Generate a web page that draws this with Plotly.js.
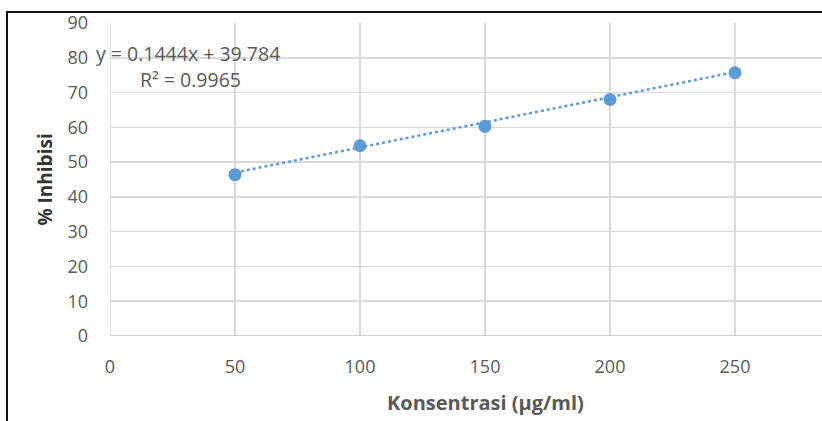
<!DOCTYPE html>
<html>
<head>
<meta charset="utf-8">
<script src="https://cdn.plot.ly/plotly-3.0.1.min.js"></script>
<style>
  html, body { margin: 0; padding: 0; background: #fff; }
  #wrap { position: relative; width: 822px; height: 421px; overflow: hidden; }
  #chart { position: absolute; left: 0; top: 0; width: 822px; height: 421px; }
  #frame { position: absolute; left: 6px; top: 11px; width: 830px; height: 430px;
           border-left: 2px solid #111; border-top: 2px solid #111; pointer-events: none; }
</style>
</head>
<body>
<div id="wrap">
  <div id="chart"></div>
  <div id="frame"></div>
</div>
<script>
// Data
const konsentrasi = [50, 100, 150, 200, 250];
const inhibisi = [46.4, 54.7, 60.3, 68.0, 75.7];
const trendX = [50, 250];
const trendY = [47.0, 75.9];
const equationText = "y = 0.1444x + 39.784";
const r2Text = "R² = 0.9965";
const xTicks = [0, 50, 100, 150, 200, 250];
const yTicks = [0, 10, 20, 30, 40, 50, 60, 70, 80, 90];

const blue = "#5b9bd5";
const gray = "#595959";
const font = "'Open Sans', 'DejaVu Sans', sans-serif";

const traces = [
  {
    x: trendX, y: trendY, type: "scatter", mode: "lines",
    line: { color: blue, width: 2.5, dash: "dot" },
    hoverinfo: "skip", showlegend: false
  },
  {
    x: konsentrasi, y: inhibisi, type: "scatter", mode: "markers",
    marker: { color: blue, size: 13, symbol: "circle" },
    showlegend: false
  }
];

const layout = {
  width: 822, height: 421,
  margin: { l: 110, r: 0, t: 23, b: 85, pad: 0 },
  paper_bgcolor: "#fff", plot_bgcolor: "#fff",
  showlegend: false,
  xaxis: {
    range: [0, 284.8], tickvals: xTicks, ticktext: xTicks.map(String),
    showgrid: true, gridcolor: "#d9d9d9", gridwidth: 1.5,
    zeroline: false, showline: false, ticks: "",
    tickfont: { family: font, size: 18, color: gray },
    ticklabelstandoff: 18
  },
  yaxis: {
    range: [0, 90], tickvals: yTicks, ticktext: yTicks.map(String),
    showgrid: true, gridcolor: "#d9d9d9", gridwidth: 1.5,
    zeroline: false, showline: false, ticks: "",
    tickfont: { family: font, size: 18, color: gray },
    ticklabelstandoff: 21
  },
  shapes: [
    { type: "line", xref: "paper", yref: "y", x0: 0, x1: 1, y0: 0, y1: 0,
      line: { color: "#bfbfbf", width: 1.5 } },
    { type: "line", xref: "x", yref: "paper", x0: 0, x1: 0, y0: 0, y1: 1,
      line: { color: "#d9d9d9", width: 1.5 } }
  ],
  annotations: [
    { text: equationText, xref: "paper", yref: "paper", x: -0.0225, y: 0.904,
      xanchor: "left", yanchor: "middle", showarrow: false,
      font: { family: font, size: 19.5, color: gray } },
    { text: r2Text, xref: "paper", yref: "paper", x: 0.040, y: 0.821,
      xanchor: "left", yanchor: "middle", showarrow: false,
      font: { family: font, size: 19.5, color: gray } },
    { text: "<b>Konsentrasi (µg/ml)</b>", xref: "x", yref: "paper", x: 150, y: -0.212,
      xanchor: "center", yanchor: "middle", showarrow: false,
      font: { family: font, size: 20, color: gray } },
    { text: "<b>% Inhibisi</b>", xref: "paper", yref: "paper", x: -0.0913, y: 0.5,
      xanchor: "center", yanchor: "middle", showarrow: false, textangle: -90,
      font: { family: font, size: 19, color: "#333333" } }
  ]
};

Plotly.newPlot("chart", traces, layout, { displayModeBar: false, staticPlot: true });
</script>
</body>
</html>
